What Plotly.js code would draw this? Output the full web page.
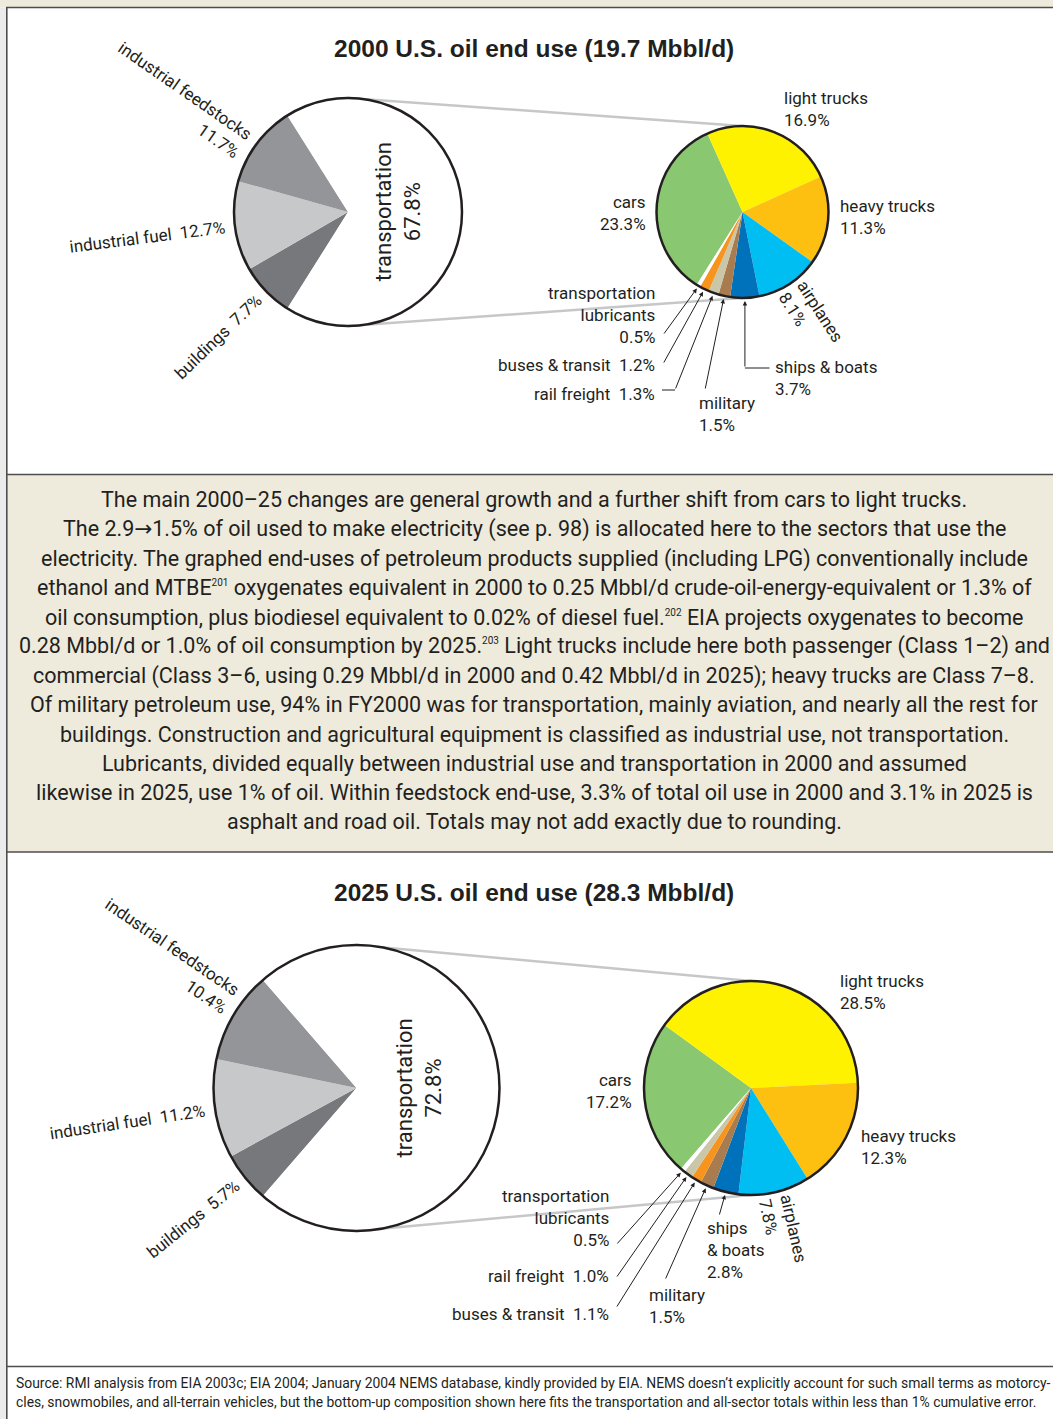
<!DOCTYPE html>
<html>
<head>
<meta charset="utf-8">
<script src="https://cdn.plot.ly/plotly-3.0.1.min.js"></script>
<style>
html,body{margin:0;padding:0;background:#ffffff;}
#chart{width:1053px;height:1419px;}
</style>
</head>
<body>
<div id="chart"></div>
<script>
// ------------------------------------------------------------------ data
const sectors = ['industrial feedstocks', 'industrial fuel', 'buildings', 'transportation'];
const sectorShare2000 = [11.7, 12.7, 7.7, 67.8];
const sectorShare2025 = [10.4, 11.2, 5.7, 72.8];

const transportModes2000 = ['cars', 'light trucks', 'heavy trucks', 'airplanes', 'ships & boats',
  'military', 'rail freight', 'buses & transit', 'transportation lubricants'];
const transportShare2000 = [23.3, 16.9, 11.3, 8.1, 3.7, 1.5, 1.3, 1.2, 0.5];

const transportModes2025 = ['cars', 'light trucks', 'heavy trucks', 'airplanes', 'ships & boats',
  'military', 'buses & transit', 'rail freight', 'transportation lubricants'];
const transportShare2025 = [17.2, 28.5, 12.3, 7.8, 2.8, 1.5, 1.1, 1.0, 0.5];

const totalUse2000 = 19.7;   // Mbbl/d
const totalUse2025 = 28.3;   // Mbbl/d

const SUP = n => '<sup><span style="font-size:10px">' + n + '</span></sup>';
const ARROW = '<span style="font-family:DejaVu Sans">→</span>';
const noteLines = [
  'The main 2000–25 changes are general growth and a further shift from cars to light trucks.',
  'The 2.9' + ARROW + '1.5% of oil used to make electricity (see p. 98) is allocated here to the sectors that use the',
  'electricity. The graphed end-uses of petroleum products supplied (including LPG) conventionally include',
  'ethanol and MTBE' + SUP(201) + ' oxygenates equivalent in 2000 to 0.25 Mbbl/d crude-oil-energy-equivalent or 1.3% of',
  'oil consumption, plus biodiesel equivalent to 0.02% of diesel fuel.' + SUP(202) + ' EIA projects oxygenates to become',
  '0.28 Mbbl/d or 1.0% of oil consumption by 2025.' + SUP(203) + ' Light trucks include here both passenger (Class 1–2) and',
  'commercial (Class 3–6, using 0.29 Mbbl/d in 2000 and 0.42 Mbbl/d in 2025); heavy trucks are Class 7–8.',
  'Of military petroleum use, 94% in FY2000 was for transportation, mainly aviation, and nearly all the rest for',
  'buildings. Construction and agricultural equipment is classified as industrial use, not transportation.',
  'Lubricants, divided equally between industrial use and transportation in 2000 and assumed',
  'likewise in 2025, use 1% of oil. Within feedstock end-use, 3.3% of total oil use in 2000 and 3.1% in 2025 is',
  'asphalt and road oil. Totals may not add exactly due to rounding.'
];
const sourceLines = [
  'Source: RMI analysis from EIA 2003c; EIA 2004; January 2004 NEMS database, kindly provided by EIA. NEMS doesn’t explicitly account for such small terms as motorcy-',
  'cles, snowmobiles, and all-terrain vehicles, but the bottom-up composition shown here fits the transportation and all-sector totals within less than 1% cumulative error.'
];

// ------------------------------------------------------------------ styles
const W = 1053, H = 1419;
const TXT = '#231f20';
const FAMILY = 'Roboto, "Liberation Sans", sans-serif';
const BEIGE = '#eeebdd';
const RULE = '#4d4d4d';
const colors = {
  'industrial feedstocks': '#939598', 'industrial fuel': '#c7c8ca', 'buildings': '#77787b', 'transportation': '#ffffff',
  'cars': '#89c870', 'light trucks': '#fff200', 'heavy trucks': '#fdc010', 'airplanes': '#00bdf2',
  'ships & boats': '#0072bc', 'military': '#a97c50', 'rail freight': '#c9c7a8', 'buses & transit': '#f7941d',
  'transportation lubricants': '#ffffff'
};
const sectorText = {
  'industrial feedstocks': 'industrial feedstocks<br>{v}',
  'industrial fuel': 'industrial fuel\u00a0 {v}',
  'buildings': 'buildings\u00a0 {v}'
};
// label placement for the exploded transportation pie (pixels relative to pie centre)
const modeLabels2000 = {
  'cars': {text: 'cars<br>{v}', dx: -94.5, dy: 0.5, anchor: 'right'},
  'light trucks': {text: 'light trucks<br>{v}', dx: 39.5, dy: -103, anchor: 'left'},
  'heavy trucks': {text: 'heavy trucks<br>{v}', dx: 95.5, dy: 5, anchor: 'left'},
  'airplanes': {text: 'airplanes<br>{v}', radial: true},
  'ships & boats': {text: 'ships & boats<br>{v}', dx: 30.5, dy: 166.5, anchor: 'left', elbow: {y: 156, x1: 27}},
  'military': {text: 'military<br>{v}', dx: -45.5, dy: 202, anchor: 'left', tail: [-37.5, 178]},
  'rail freight': {text: 'rail freight\u00a0 {v}', dx: -85.5, dy: 182, anchor: 'right', kink: {x0: -80.5, x1: -67.5, y: 178}},
  'buses & transit': {text: 'buses & transit\u00a0 {v}', dx: -85.5, dy: 153, anchor: 'right', tail: [-79.5, 152]},
  'transportation lubricants': {text: 'transportation<br>lubricants<br>{v}', dx: -85.5, dy: 102.5, anchor: 'right', tail: [-79.5, 123]}
};
const modeLabels2025 = {
  'cars': {text: 'cars<br>{v}', dx: -117, dy: 2.5, anchor: 'right'},
  'light trucks': {text: 'light trucks<br>{v}', dx: 87, dy: -96.5, anchor: 'left'},
  'heavy trucks': {text: 'heavy trucks<br>{v}', dx: 108, dy: 58.5, anchor: 'left'},
  'airplanes': {text: 'airplanes<br>{v}', radial: true},
  'ships & boats': {text: 'ships<br>& boats<br>{v}', dx: -46, dy: 162, anchor: 'left', tail: [-32, 128]},
  'military': {text: 'military<br>{v}', dx: -104, dy: 218, anchor: 'left', tail: [-86, 192]},
  'buses & transit': {text: 'buses & transit\u00a0 {v}', dx: -140, dy: 226, anchor: 'right', tail: [-135, 220]},
  'rail freight': {text: 'rail freight\u00a0 {v}', dx: -140, dy: 188, anchor: 'right', tail: [-135, 190]},
  'transportation lubricants': {text: 'transportation<br>lubricants<br>{v}', dx: -140, dy: 129.5, anchor: 'right', tail: [-135, 157]}
};

const panels = [
  {year: 2000, total: totalUse2000, sectorVals: sectorShare2000, modes: transportModes2000, modeVals: transportShare2000,
   labels: modeLabels2000, titleY: 48, feedNudge: {pos: 0, rot: -2},
   left: {cx: 348, cy: 212, r: 114}, right: {cx: 742.5, cy: 212, r: 86}},
  {year: 2025, total: totalUse2025, sectorVals: sectorShare2025, modes: transportModes2025, modeVals: transportShare2025,
   labels: modeLabels2025, titleY: 893, feedNudge: {pos: 7, rot: -3},
   left: {cx: 356.5, cy: 1088, r: 143}, right: {cx: 751, cy: 1088, r: 107}}
];

// ------------------------------------------------------------------ helpers
const px = x => x / W;
const py = y => 1 - y / H;
const pct = v => v.toFixed(1) + '%';
const ctx = document.createElement('canvas').getContext('2d');
function textWidth(s, size) {
  ctx.font = size + 'px Roboto';
  return Math.max(...s.split('<br>').map(t => ctx.measureText(t).width));
}
function domainOf(c) {
  return {x: [px(c.cx - c.r), px(c.cx + c.r)], y: [py(c.cy + c.r), py(c.cy - c.r)]};
}
// geometry of slices exactly as plotly lays them out (clockwise from 12 o'clock + rotation)
function sliceGeometry(values, rotation) {
  const tot = values.reduce((a, b) => a + b, 0);
  let acc = rotation;
  return values.map(v => {
    const span = v / tot * 360;
    const mid = acc + span / 2;
    acc += span;
    return {mid: mid};
  });
}
const unit = deg => ({ux: Math.sin(deg * Math.PI / 180), uy: -Math.cos(deg * Math.PI / 180)});
function outlinePie(c) {
  return {type: 'pie', values: [1], labels: [''], sort: false, domain: domainOf(c),
    marker: {colors: ['rgba(0,0,0,0)'], line: {color: TXT, width: 2.5}},
    textinfo: 'none', hoverinfo: 'skip', showlegend: false};
}

const traces = [];
const annotations = [];
const shapes = [];
const LBL = 17;

// background furniture
shapes.push({type: 'rect', xref: 'paper', yref: 'paper', x0: 0, x1: 1, y0: py(7.5), y1: 1, fillcolor: BEIGE, line: {width: 0}, layer: 'below'});
shapes.push({type: 'rect', xref: 'paper', yref: 'paper', x0: 0, x1: px(6), y0: 0, y1: py(7.5), fillcolor: '#ebebeb', line: {width: 0}, layer: 'below'});
shapes.push({type: 'rect', xref: 'paper', yref: 'paper', x0: px(7), x1: 1, y0: py(852), y1: py(474.5), fillcolor: BEIGE, line: {width: 0}, layer: 'below'});
[7.5, 474.5, 852, 1366.5].forEach(y => shapes.push({type: 'line', xref: 'paper', yref: 'paper', x0: px(6), x1: 1, y0: py(y), y1: py(y), line: {color: RULE, width: 1.6}}));
shapes.push({type: 'line', xref: 'paper', yref: 'paper', x0: px(6.8), x1: px(6.8), y0: 0, y1: py(7.5), line: {color: RULE, width: 1.6}});

panels.forEach(p => {
  const L = p.left, R = p.right;
  // ---- left (sector) pie : drawn clockwise buildings, fuel, feedstocks, transportation
  const order = [2, 1, 0, 3];
  const lLabels = order.map(i => sectors[i]);
  const lVals = order.map(i => p.sectorVals[i]);
  const lTot = lVals.reduce((a, b) => a + b, 0);
  const nonTrans = lVals.slice(0, 3).reduce((a, b) => a + b, 0);
  const rotation = -90 - nonTrans / lTot * 180;

  // connector lines (below pies)
  shapes.push({type: 'line', xref: 'paper', yref: 'paper', layer: 'below', x0: px(L.cx), y0: py(L.cy - L.r), x1: px(R.cx), y1: py(R.cy - R.r), line: {color: '#c6c7c9', width: 2.5}});
  shapes.push({type: 'line', xref: 'paper', yref: 'paper', layer: 'below', x0: px(L.cx), y0: py(L.cy + L.r), x1: px(R.cx), y1: py(R.cy + R.r), line: {color: '#c6c7c9', width: 2.5}});

  traces.push({type: 'pie', values: lVals, labels: lLabels, sort: false, direction: 'clockwise', rotation: rotation,
    domain: domainOf(L), marker: {colors: lLabels.map(l => colors[l]), line: {width: 0}},
    textinfo: 'none', hoverinfo: 'label+value', showlegend: false});
  traces.push(outlinePie(L));

  const lGeo = sliceGeometry(lVals, rotation);
  lLabels.forEach((name, k) => {
    const val = lVals[k];
    if (name === 'transportation') {
      const g = unit(lGeo[k].mid);
      annotations.push({xref: 'paper', yref: 'paper', x: px(L.cx + 0.44 * L.r * g.ux), y: py(L.cy + 0.44 * L.r * g.uy),
        text: 'transportation<br>' + pct(val), showarrow: false, textangle: -90, xanchor: 'center', yanchor: 'middle',
        font: {family: FAMILY, size: 22, color: TXT}});
      return;
    }
    const multi = name === 'industrial feedstocks';
    const nudge = multi ? p.feedNudge : {pos: 0, rot: 0};
    const g = unit(lGeo[k].mid + nudge.pos);
    const text = sectorText[name].replace('{v}', pct(val));
    const w = textWidth(text, LBL);
    const a = Math.atan2(-g.uy, -g.ux) + nudge.rot * Math.PI / 180;   // reads towards centre
    const d = L.r + 10 + w / 2;
    let cx = L.cx + d * g.ux, cy = L.cy + d * g.uy;
    if (multi) {                                  // keep first line on the radial
      const sh = 0.65 * LBL;
      cx += -Math.sin(a) * sh; cy += Math.cos(a) * sh;
    }
    annotations.push({xref: 'paper', yref: 'paper', x: px(cx), y: py(cy), text: text, showarrow: false,
      textangle: a * 180 / Math.PI, xanchor: 'center', yanchor: 'middle', align: 'right',
      font: {family: FAMILY, size: LBL, color: TXT}});
  });

  // ---- right (transportation) pie
  traces.push({type: 'pie', values: p.modeVals, labels: p.modes, sort: false, direction: 'clockwise', rotation: rotation,
    domain: domainOf(R), marker: {colors: p.modes.map(m => colors[m]), line: {width: 0}},
    textinfo: 'none', hoverinfo: 'label+value', showlegend: false});
  traces.push(outlinePie(R));

  const rGeo = sliceGeometry(p.modeVals, rotation);
  p.modes.forEach((name, k) => {
    const g = unit(rGeo[k].mid);
    const spec = p.labels[name];
    const text = spec.text.replace('{v}', pct(p.modeVals[k]));
    if (spec.radial) {
      const w = textWidth(text, LBL);
      const a = Math.atan2(g.uy, g.ux);          // reads outward
      const d = R.r + 5 + w / 2;
      annotations.push({xref: 'paper', yref: 'paper', x: px(R.cx + d * g.ux), y: py(R.cy + d * g.uy), text: text,
        showarrow: false, textangle: a * 180 / Math.PI, xanchor: 'center', yanchor: 'middle', align: 'left',
        font: {family: FAMILY, size: LBL, color: TXT}});
      return;
    }
    annotations.push({xref: 'paper', yref: 'paper', x: px(R.cx + spec.dx), y: py(R.cy + spec.dy), text: text,
      showarrow: false, xanchor: spec.anchor, yanchor: 'middle', align: spec.anchor,
      font: {family: FAMILY, size: LBL, color: TXT}});
    // arrows to small slices
    const tip = [R.cx + (R.r + 3) * g.ux, R.cy + (R.r + 3) * g.uy];
    let tail = null;
    if (spec.tail) tail = [R.cx + spec.tail[0], R.cy + spec.tail[1]];
    if (spec.kink) {
      tail = [R.cx + spec.kink.x1, R.cy + spec.kink.y];
      shapes.push({type: 'line', xref: 'paper', yref: 'paper', x0: px(R.cx + spec.kink.x0), x1: px(tail[0]), y0: py(tail[1]), y1: py(tail[1]), line: {color: TXT, width: 1}});
    }
    if (spec.elbow) {
      tail = [tip[0], R.cy + spec.elbow.y];
      shapes.push({type: 'line', xref: 'paper', yref: 'paper', x0: px(tail[0]), x1: px(R.cx + spec.elbow.x1), y0: py(tail[1]), y1: py(tail[1]), line: {color: TXT, width: 1}});
    }
    if (tail) {
      annotations.push({xref: 'paper', yref: 'paper', x: px(tip[0]), y: py(tip[1]), ax: tail[0] - tip[0], ay: tail[1] - tip[1],
        axref: 'pixel', ayref: 'pixel', text: '', showarrow: true, arrowhead: 2, arrowsize: 0.9, arrowwidth: 1,
        arrowcolor: TXT, standoff: 0});
    }
  });

  // ---- title
  annotations.push({xref: 'paper', yref: 'paper', x: px(534), y: py(p.titleY), xanchor: 'center', yanchor: 'middle',
    text: '<b>' + p.year + ' U.S. oil end use (' + p.total.toFixed(1) + ' Mbbl/d)</b>', showarrow: false,
    font: {family: '"Liberation Sans", Arial, sans-serif', size: 24.5, color: TXT}});
});

// note paragraph, one annotation per line for exact leading
noteLines.forEach((line, i) => annotations.push({xref: 'paper', yref: 'paper', x: px(534), y: py(500 + i * 29.25),
  xanchor: 'center', yanchor: 'middle', text: line, showarrow: false, font: {family: FAMILY, size: 21.5, color: TXT}}));
// source
sourceLines.forEach((line, i) => annotations.push({xref: 'paper', yref: 'paper', x: px(14), y: py(1383 + i * 19),
  xanchor: 'left', yanchor: 'middle', text: line, showarrow: false, font: {family: FAMILY, size: 13.9, color: TXT}}));

Plotly.newPlot('chart', traces, {
  width: W, height: H, margin: {l: 0, r: 0, t: 0, b: 0}, paper_bgcolor: '#ffffff',
  showlegend: false, hovermode: false, annotations: annotations, shapes: shapes
}, {staticPlot: true});
</script>
</body>
</html>
